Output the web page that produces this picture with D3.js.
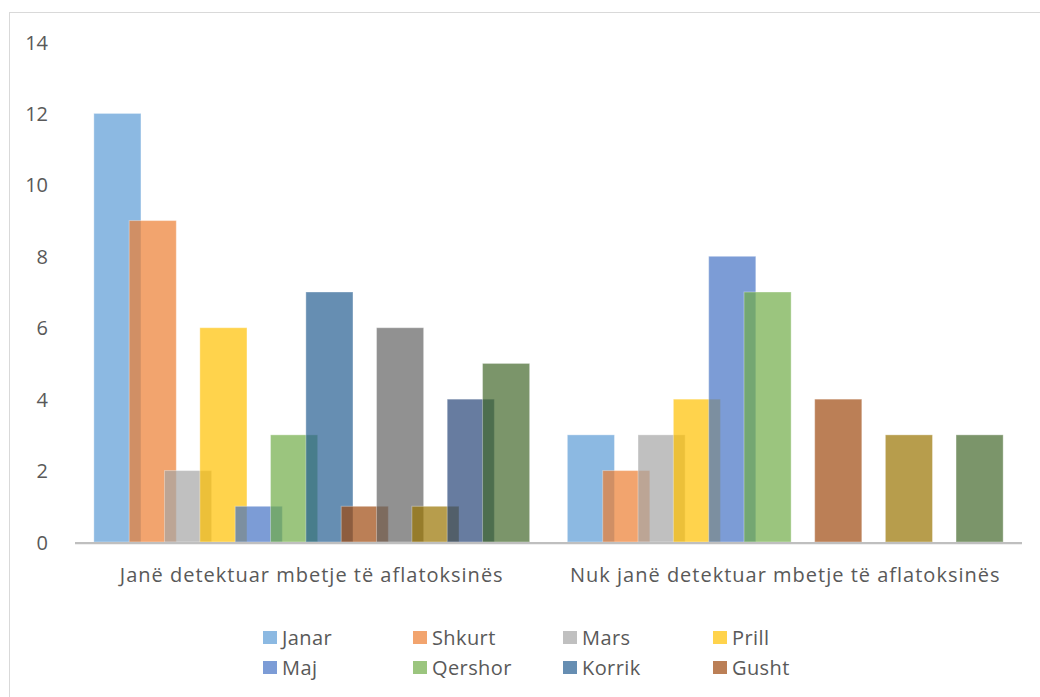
<!DOCTYPE html>
<html>
<head>
<meta charset="utf-8">
<script src="https://cdn.jsdelivr.net/npm/d3@7"></script>
<style>
  html, body { margin: 0; padding: 0; background: #ffffff; }
  svg { display: block; }
  text { font-family: "Open Sans", sans-serif; fill: #595959; }
</style>
</head>
<body>
<svg id="chart" width="1040" height="697"></svg>
<script>
// ---- data ----
const categories = ["Janë detektuar mbetje të aflatoksinës", "Nuk janë detektuar mbetje të aflatoksinës"];
const months = ["Janar", "Shkurt", "Mars", "Prill", "Maj", "Qershor", "Korrik", "Gusht", "Shtator", "Tetor", "Nëntor", "Dhjetor"];
const detected    = [12, 9, 2, 6, 1, 3, 7, 1, 6, 1, 4, 5];
const notDetected = [3, 2, 3, 4, 8, 7, 0, 4, 0, 3, 0, 3];
const colors = ["#5B9BD5", "#ED7D31", "#A5A5A5", "#FFC000", "#4472C4", "#70AD47",
                "#255E91", "#9E480E", "#636363", "#997300", "#264478", "#43682B"];
const yTicks = [0, 2, 4, 6, 8, 10, 12, 14];
const legendItems = months.slice(0, 8);

// ---- layout ----
const svg = d3.select("#chart");
const plot = { left: 75, right: 1022, top: 42, bottom: 542 };
const overlap = 0.25, gapWidth = 0.8;

svg.append("rect")
  .attr("x", 9.5).attr("y", 12.5).attr("width", 1040).attr("height", 700)
  .attr("fill", "#fff").attr("stroke", "#D9D9D9").attr("stroke-width", 1);

const x0 = d3.scaleBand().domain(categories).range([plot.left, plot.right]).padding(0);
const y = d3.scaleLinear().domain([0, 14]).range([plot.bottom, plot.top]);

const n = months.length;
const barW = x0.bandwidth() / (n - (n - 1) * overlap + gapWidth);
const step = barW * (1 - overlap);
const x1 = d3.scaleLinear().domain([0, n - 1])
  .range([gapWidth * barW / 2, gapWidth * barW / 2 + (n - 1) * step]);

const values = [detected, notDetected];

// y axis labels
const yAxis = d3.axisLeft(y).tickValues(yTicks).tickSize(0).tickPadding(0);
const yg = svg.append("g").attr("transform", "translate(48,0)").call(yAxis);
yg.select(".domain").remove();
yg.selectAll("text").attr("font-size", 20).attr("font-family", "Open Sans, sans-serif")
  .attr("fill", "#595959").attr("dy", "0.35em");

// bars, series in order so later ones overlap earlier ones
months.forEach((m, si) => {
  svg.append("g").selectAll("rect")
    .data(categories.map((c, ci) => ({ c, v: values[ci][si] })).filter(d => d.v > 0))
    .join("rect")
    .attr("x", d => x0(d.c) + x1(si))
    .attr("y", d => y(d.v))
    .attr("width", barW)
    .attr("height", d => y(0) - y(d.v))
    .attr("fill", colors[si])
    .attr("fill-opacity", 0.7)
    .attr("stroke", "#ffffff")
    .attr("stroke-opacity", 0.35)
    .attr("stroke-width", 1);
});

// x axis
const xAxis = d3.axisBottom(x0).tickSize(0).tickPadding(0);
const xg = svg.append("g").attr("transform", `translate(0,${plot.bottom})`).call(xAxis);
xg.select(".domain").attr("stroke", "#BFBFBF").attr("stroke-width", 2.25)
  .attr("d", `M${plot.left},1H${plot.right}`);
xg.selectAll("text").attr("font-size", 20).attr("font-family", "Open Sans, sans-serif")
  .attr("letter-spacing", 1).attr("fill", "#595959").attr("dy", "0").attr("y", 40);

// legend
const legend = svg.append("g");
legendItems.forEach((m, i) => {
  const col = i % 4, row = Math.floor(i / 4);
  const gx = 263 + col * 150, gy = 631 + row * 30;
  legend.append("rect").attr("x", gx).attr("y", gy).attr("width", 14).attr("height", 13)
    .attr("fill", colors[i]).attr("fill-opacity", 0.7);
  legend.append("text").attr("x", gx + 19).attr("y", gy + 14)
    .attr("font-size", 20).attr("letter-spacing", 0.4).text(m);
});
</script>
</body>
</html>
